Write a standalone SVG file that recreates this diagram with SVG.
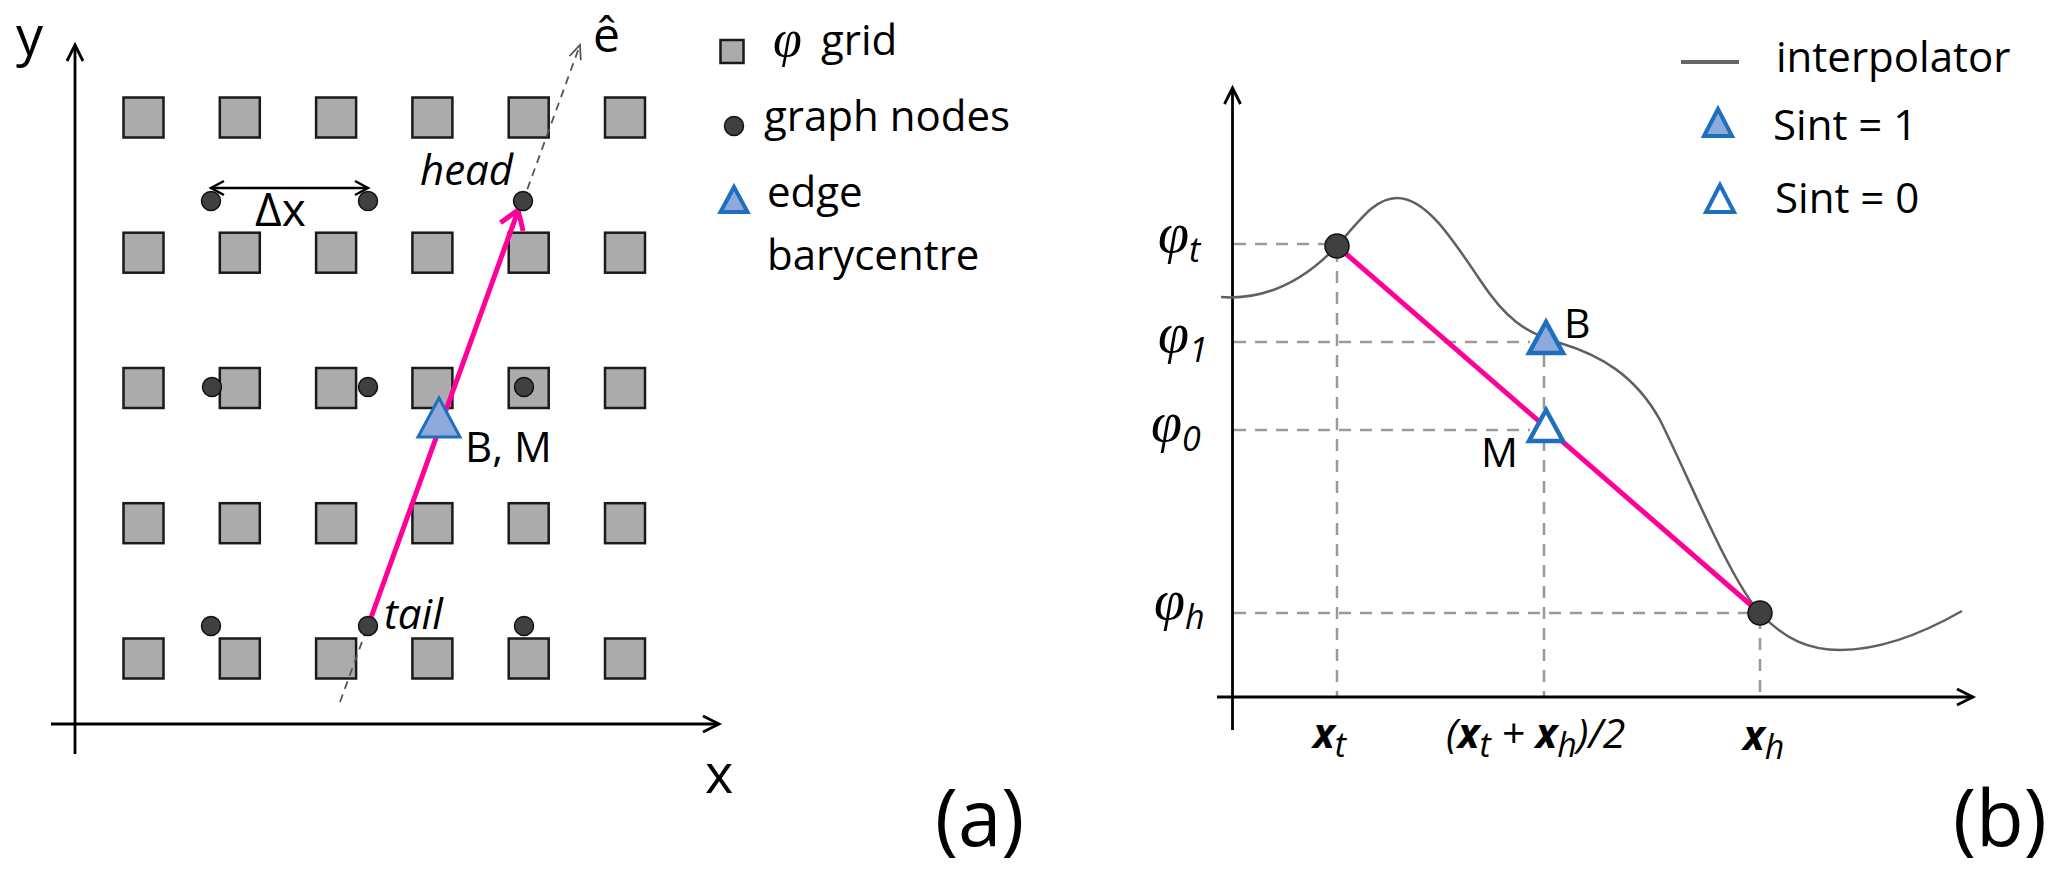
<svg xmlns="http://www.w3.org/2000/svg" width="2067" height="880" viewBox="0 0 2067 880">
<style>
.sq{fill:#ababab;stroke:#1a1a1a;stroke-width:2.5}
.nd{fill:#404040;stroke:#111;stroke-width:1.5}
.tri1{fill:#8eaadb;stroke:#1f6fbf;stroke-width:4;stroke-linejoin:miter}
.tri0{fill:#fff;stroke:#1f6fbf;stroke-width:4;stroke-linejoin:miter}
.ax{stroke:#000;stroke-width:2.8;fill:none}
.dash{stroke:#9a9a9a;stroke-width:2.5;stroke-dasharray:12 9;fill:none}
.edash{stroke:#555;stroke-width:1.8;stroke-dasharray:8 6;fill:none}
.mag{stroke:#ff0099;stroke-width:5;fill:none}
.curve{stroke:#606060;stroke-width:2.5;fill:none}
.t{font-family:'Open Sans','Liberation Sans',sans-serif;font-size:42px;fill:#000}
.it{font-family:'Open Sans','Liberation Sans',sans-serif;font-style:italic;font-size:42px;fill:#000}
.phi{font-family:'Liberation Serif','DejaVu Serif',serif;font-style:italic;font-size:56px;fill:#000}
.sub{font-family:'Open Sans','Liberation Sans',sans-serif;font-style:italic;font-size:34px}
.bx{font-family:'Open Sans','Liberation Sans',sans-serif;font-style:italic;font-size:41px;fill:#000}
</style>

<!-- Panel (a) -->
<g id="panel-a-axes">
  <line class="ax" x1="75" y1="754" x2="75" y2="46"/>
  <polyline class="ax" points="67,61 75,45 83,61"/>
  <line class="ax" x1="51" y1="724" x2="719" y2="724"/>
  <polyline class="ax" points="703,716 719,724 703,732"/>
  <text class="t" x="16" y="55" style="font-size:54px">y</text>
  <text class="t" x="705" y="793" style="font-size:54px">x</text>
</g>

<g id="grid">
  <rect class="sq" x="123.5" y="97.5" width="40" height="40"/>
  <rect class="sq" x="219.8" y="97.5" width="40" height="40"/>
  <rect class="sq" x="316.1" y="97.5" width="40" height="40"/>
  <rect class="sq" x="412.4" y="97.5" width="40" height="40"/>
  <rect class="sq" x="508.7" y="97.5" width="40" height="40"/>
  <rect class="sq" x="605" y="97.5" width="40" height="40"/>

  <rect class="sq" x="123.5" y="232.7" width="40" height="40"/>
  <rect class="sq" x="219.8" y="232.7" width="40" height="40"/>
  <rect class="sq" x="316.1" y="232.7" width="40" height="40"/>
  <rect class="sq" x="412.4" y="232.7" width="40" height="40"/>
  <rect class="sq" x="508.7" y="232.7" width="40" height="40"/>
  <rect class="sq" x="605" y="232.7" width="40" height="40"/>

  <rect class="sq" x="123.5" y="368" width="40" height="40"/>
  <rect class="sq" x="219.8" y="368" width="40" height="40"/>
  <rect class="sq" x="316.1" y="368" width="40" height="40"/>
  <rect class="sq" x="412.4" y="368" width="40" height="40"/>
  <rect class="sq" x="508.7" y="368" width="40" height="40"/>
  <rect class="sq" x="605" y="368" width="40" height="40"/>

  <rect class="sq" x="123.5" y="503.2" width="40" height="40"/>
  <rect class="sq" x="219.8" y="503.2" width="40" height="40"/>
  <rect class="sq" x="316.1" y="503.2" width="40" height="40"/>
  <rect class="sq" x="412.4" y="503.2" width="40" height="40"/>
  <rect class="sq" x="508.7" y="503.2" width="40" height="40"/>
  <rect class="sq" x="605" y="503.2" width="40" height="40"/>

  <rect class="sq" x="123.5" y="638.5" width="40" height="40"/>
  <rect class="sq" x="219.8" y="638.5" width="40" height="40"/>
  <rect class="sq" x="316.1" y="638.5" width="40" height="40"/>
  <rect class="sq" x="412.4" y="638.5" width="40" height="40"/>
  <rect class="sq" x="508.7" y="638.5" width="40" height="40"/>
  <rect class="sq" x="605" y="638.5" width="40" height="40"/>
</g>

<g id="connectors-a">
  <line class="edash" x1="340" y1="702" x2="580" y2="45"/>
  <polyline class="edash" style="stroke-dasharray:none" points="569.6,56 580,45 580.8,60.2"/>
  <line class="ax" x1="212" y1="188" x2="367" y2="188" style="stroke-width:2.5"/>
  <polyline class="ax" style="stroke-width:2.5" points="224,181 211,188 224,195"/>
  <polyline class="ax" style="stroke-width:2.5" points="355,181 368,188 355,195"/>
  <line class="mag" x1="368" y1="626" x2="518" y2="211"/>
  <polyline class="mag" points="500.5,222.8 518,210 523.1,231"/>
</g>

<g id="graph-nodes">
  <circle class="nd" cx="211" cy="201" r="9.5"/>
  <circle class="nd" cx="368" cy="201" r="9.5"/>
  <circle class="nd" cx="523" cy="201" r="9.5"/>
  <circle class="nd" cx="212" cy="387" r="9.5"/>
  <circle class="nd" cx="368" cy="387" r="9.5"/>
  <circle class="nd" cx="524" cy="387" r="9.5"/>
  <circle class="nd" cx="211" cy="626" r="9.5"/>
  <circle class="nd" cx="368" cy="626" r="9.5"/>
  <circle class="nd" cx="524" cy="626" r="9.5"/>
</g>

<g id="barycentre-a">
  <polygon class="tri1" style="stroke-width:3" points="439,398 418,437 460,437"/>
  <text class="t" x="465" y="462">B, M</text>
</g>

<g id="labels-a">
  <text class="t" x="255" y="226" style="font-size:46px">Δx</text>
  <text class="it" x="420" y="185">head</text>
  <text class="it" x="384" y="629">tail</text>
  <text class="t" x="593" y="52" style="font-size:48px">ê</text>
  <text class="t" x="935" y="846" style="font-size:78px">(a)</text>
</g>

<g id="legend-a">
  <rect class="sq" x="720.5" y="40" width="23" height="23"/>
  <text class="phi" x="773" y="56" style="font-size:52px">φ</text>
  <text class="t" x="821" y="55">grid</text>
  <circle class="nd" cx="734" cy="126" r="9.5"/>
  <text class="t" x="764" y="131">graph nodes</text>
  <polygon class="tri1" points="734,187 720.5,212 747.5,212"/>
  <text class="t" x="767" y="207">edge</text>
  <text class="t" x="767" y="270">barycentre</text>
</g>

<!-- Panel (b) -->
<g id="guides-b">
  <line class="dash" x1="1234" y1="244" x2="1337" y2="244"/>
  <line class="dash" x1="1234" y1="342" x2="1530" y2="342"/>
  <line class="dash" x1="1234" y1="430" x2="1530" y2="430"/>
  <line class="dash" x1="1234" y1="613" x2="1760" y2="613"/>
  <line class="dash" x1="1337" y1="250" x2="1337" y2="697"/>
  <line class="dash" x1="1544" y1="355" x2="1544" y2="697"/>
  <line class="dash" x1="1760" y1="617" x2="1760" y2="697"/>
</g>

<g id="panel-b-axes">
  <line class="ax" x1="1232.5" y1="730" x2="1232.5" y2="88"/>
  <polyline class="ax" points="1224.5,104 1232.5,88 1240.5,104"/>
  <line class="ax" x1="1217" y1="697" x2="1973" y2="697"/>
  <polyline class="ax" points="1957,689 1973,697 1957,705"/>
</g>

<g id="interpolator">
  <path class="curve" d="M1221 297 C1260 300 1300 285 1337 246 C1360 220 1375 198 1397 198 C1425 198 1450 235 1480 280 C1505 318 1525 333 1560 343 C1600 355 1635 375 1660 420 C1690 480 1730 580 1760 613 C1785 640 1810 650 1840 650 C1880 650 1920 635 1962 611"/>
</g>

<g id="connectors-b">
  <line class="mag" x1="1337" y1="246" x2="1760" y2="613"/>
</g>

<g id="node-t">
  <circle class="nd" cx="1337" cy="246" r="12"/>
</g>
<g id="node-h">
  <circle class="nd" cx="1760" cy="613" r="12"/>
</g>
<g id="point-B">
  <polygon class="tri1" style="stroke-width:4.5" points="1546,322 1529,353 1563,353"/>
  <text class="t" x="1564" y="338" style="font-size:41px">B</text>
</g>
<g id="point-M">
  <polygon class="tri0" style="stroke-width:4.5" points="1546,410 1529,441 1563,441"/>
  <text class="t" x="1481" y="467" style="font-size:41px">M</text>
</g>

<g id="labels-b">
  <text class="phi" x="1158" y="252">φ<tspan class="sub" dy="10">t</tspan></text>
  <text class="phi" x="1158" y="352">φ<tspan class="sub" dy="10">1</tspan></text>
  <text class="phi" x="1151" y="441">φ<tspan class="sub" dy="10">0</tspan></text>
  <text class="phi" x="1154" y="619">φ<tspan class="sub" dy="10">h</tspan></text>
  <text class="bx" x="1313" y="748"><tspan font-weight="bold">x</tspan><tspan class="sub" dy="9">t</tspan></text>
  <text class="bx" x="1446" y="748">(<tspan font-weight="bold">x</tspan><tspan class="sub" dy="9">t</tspan><tspan dy="-9"> + </tspan><tspan font-weight="bold">x</tspan><tspan class="sub" dy="9">h</tspan><tspan dy="-9">)/2</tspan></text>
  <text class="bx" x="1743" y="750"><tspan font-weight="bold">x</tspan><tspan class="sub" dy="9">h</tspan></text>
  <text class="t" x="1953" y="846" style="font-size:78px">(b)</text>
</g>

<g id="legend-b">
  <line x1="1681" y1="62" x2="1739" y2="62" stroke="#666" stroke-width="4"/>
  <text class="t" x="1776" y="72">interpolator</text>
  <polygon class="tri1" points="1718,109 1704,136 1732,136"/>
  <text class="t" x="1773" y="140">Sint = 1</text>
  <polygon class="tri0" points="1720,185 1706,212 1734,212"/>
  <text class="t" x="1775" y="213">Sint = 0</text>
</g>
</svg>
